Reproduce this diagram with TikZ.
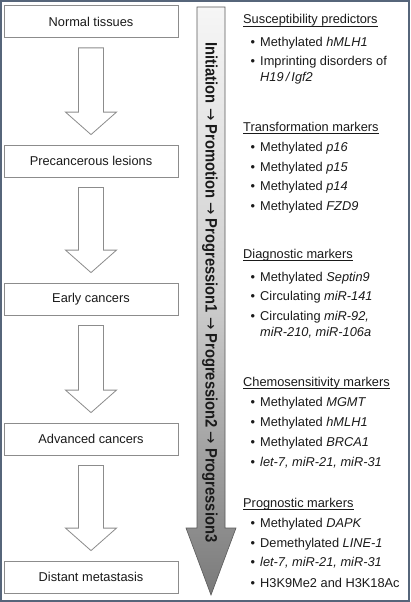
\documentclass[tikz,border=0pt]{standalone}
\usepackage{fontspec}
\usepackage{graphicx}
\setmainfont{Liberation Sans}
\newfontfamily\arrowfont{DejaVu Sans}
\usetikzlibrary{calc}
\definecolor{framecol}{HTML}{56657A}
\definecolor{boxgray}{HTML}{8C8C8C}
\definecolor{txt}{HTML}{1A1A1A}
\definecolor{arrtop}{HTML}{F6F6F6}
\definecolor{arrmid}{HTML}{CDCDCD}
\definecolor{arrbot}{HTML}{7A7A7A}
\definecolor{arrline}{HTML}{5A5A5A}
\newcommand\bul{\llap{\textbullet\hspace{5pt}}}
\newcommand\progarrow{{\arrowfont\mdseries →}}
\newcommand\hollowarrow[2]{%
  \draw[stagearrow] let \p1=($(#1.south)+(0,10)$), \p2=($(#2.north)+(0,-10)$) in
    (\x1-12.5pt,\y1) -- (\x1+12.5pt,\y1) -- (\x1+12.5pt,\y2+22.5pt) -- (\x1+25.5pt,\y2+22.5pt)
    -- (\x1,\y2) -- (\x1-25.5pt,\y2+22.5pt) -- (\x1-12.5pt,\y2+22.5pt) -- cycle;}
\begin{document}
\begin{tikzpicture}[x=1pt,y=-1pt,
  every node/.style={inner sep=0pt, text=txt},
  stagebox/.style={draw=boxgray, line width=0.8pt, minimum width=174pt, minimum height=32pt,
    font=\fontsize{12.8}{15}\selectfont},
  stagearrow/.style={draw=boxgray, line width=0.8pt, fill=white},
  heading/.style={anchor=base west, font=\fontsize{12.8}{15}\selectfont},
  item/.style={anchor=base west, font=\fontsize{12.8}{15}\selectfont},
  uline/.style={line width=0.6pt, draw=txt},
]
\useasboundingbox (0,0) rectangle (410,602);
\fill[white] (0,0) rectangle (410,602);
\draw[framecol, line width=2.2pt] (1.1,1.1) rectangle (408.9,600.9);

% stages
\node[stagebox] (s1) at (91,21.5) {Normal tissues};
\node[stagebox] (s2) at (91,161) {Precancerous lesions};
\node[stagebox] (s3) at (91,299) {Early cancers};
\node[stagebox] (s4) at (91,439) {Advanced cancers};
\node[stagebox] (s5) at (91,577) {Distant metastasis};
\hollowarrow{s1}{s2}
\hollowarrow{s2}{s3}
\hollowarrow{s3}{s4}
\hollowarrow{s4}{s5}

% big progression arrow
\path[draw=arrline, line width=0.6pt, top color=arrtop, bottom color=arrbot, middle color=arrmid]
  (197,7) -- (225,7) -- (225,528) -- (236,528) -- (211,595) -- (186,528) -- (197,528) -- cycle;
\node[rotate=-90, anchor=base] (prog) at (205.5,292.5)
  {\resizebox{500pt}{12pt}{\bfseries Initiation \progarrow{} Promotion \progarrow{} Progression1 \progarrow{} Progression2 \progarrow{} Progression3}};

% right column
\node[heading] (h1) at (243,24) {Susceptibility predictors};
\node[item] (a1) at (260,46.5) {\bul Methylated \textit{hMLH1}};
\node[item] (a2) at (260,65.5) {\bul Imprinting disorders of};
\node[item] (a3) at (260,81.5) {\textit{H19\,/\,Igf2}};

\node[heading] (h2) at (243,131.5) {Transformation markers};
\node[item] (b1) at (260,151.5) {\bul Methylated \textit{p16}};
\node[item] (b2) at (260,171) {\bul Methylated \textit{p15}};
\node[item] (b3) at (260,190.5) {\bul Methylated \textit{p14}};
\node[item] (b4) at (260,210) {\bul Methylated \textit{FZD9}};

\node[heading] (h3) at (243,258.5) {Diagnostic markers};
\node[item] (c1) at (260,281.5) {\bul Methylated \textit{Septin9}};
\node[item] (c2) at (260,300.5) {\bul Circulating \textit{miR-141}};
\node[item] (c3) at (260,320.5) {\bul Circulating \textit{miR-92,}};
\node[item] (c4) at (260,336.5) {\textit{miR-210, miR-106a}};

\node[heading] (h4) at (243,386.5) {Chemosensitivity markers};
\node[item] (d1) at (260,406.5) {\bul Methylated \textit{MGMT}};
\node[item] (d2) at (260,426.5) {\bul Methylated \textit{hMLH1}};
\node[item] (d3) at (260,446) {\bul Methylated \textit{BRCA1}};
\node[item] (d4) at (260,466) {\bul \textit{let-7, miR-21, miR-31}};

\node[heading] (h5) at (243,507) {Prognostic markers};
\node[item] (e1) at (260,527) {\bul Methylated \textit{DAPK}};
\node[item] (e2) at (260,547.5) {\bul Demethylated \textit{LINE-1}};
\node[item] (e3) at (260,566.5) {\bul \textit{let-7, miR-21, miR-31}};
\node[item] (e4) at (260,587.5) {\bul H3K9Me2 and H3K18Ac};

\foreach \h in {h1,h2,h3,h4,h5}
  \draw[uline] ($(\h.base west)+(0,2)$) -- ($(\h.base east)+(0,2)$);
\end{tikzpicture}
\end{document}
